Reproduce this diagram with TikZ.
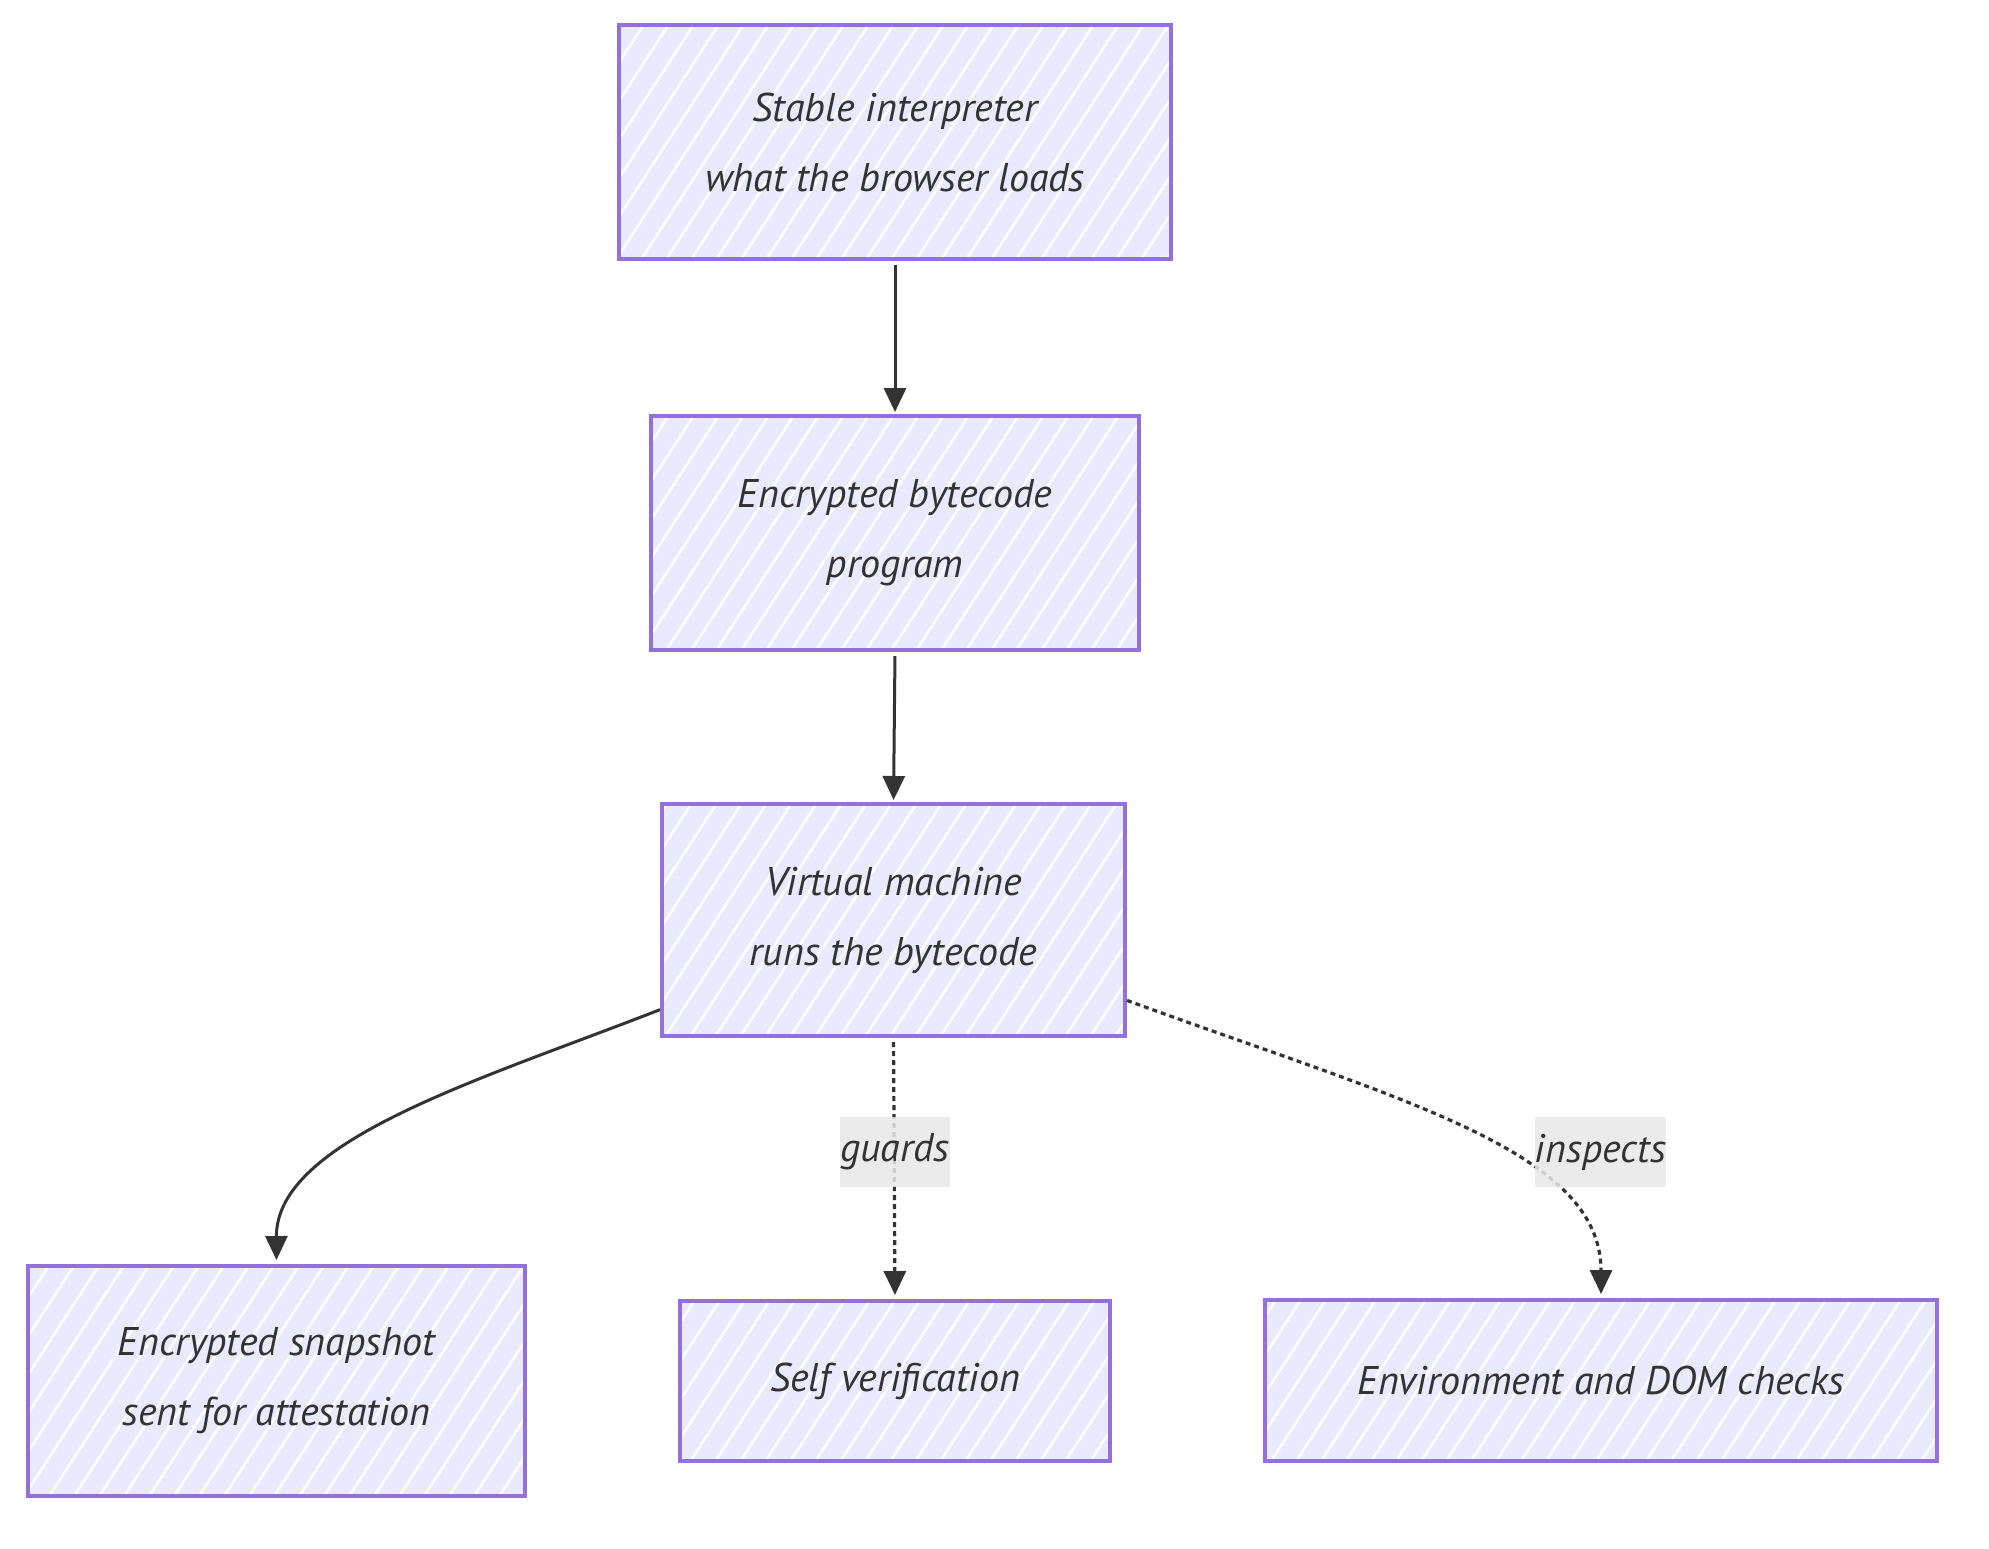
\documentclass[tikz,border=0pt]{standalone}
\usepackage{fontspec}
\setmainfont{PT Sans}
\usetikzlibrary{arrows.meta}
\definecolor{boxfill}{HTML}{EAEAFE}
\definecolor{boxline}{HTML}{9370DB}
\definecolor{ink}{HTML}{333333}
\definecolor{lblbg}{HTML}{E8E8E8}
\tikzset{
  hatchbox/.style={draw=boxline, line width=2pt, fill=boxfill, text=ink,
    inner sep=0pt, align=center, font=\itshape\fontsize{20}{35}\selectfont,
    path picture={
      \foreach \k in {-28,...,16}
        \draw[white, line width=1.2pt]
          ([xshift=\k*12.5pt, yshift=-75pt]path picture bounding box.center) -- ++(57:190pt);
    }},
  edge/.style={draw=ink, line width=1.5pt, -{Triangle[length=12pt,width=11pt]}},
  dashedge/.style={edge, line width=1.6pt, dash pattern=on 2.5pt off 2pt},
  lbl/.style={fill=lblbg, fill opacity=0.85, text opacity=1, text=ink, inner sep=0pt,
    font=\itshape\fontsize{20}{35}\selectfont, minimum height=35pt}
}
\begin{document}
\begin{tikzpicture}[x=0.5pt, y=-0.5pt]
\useasboundingbox (0,0) rectangle (1989,1548);
\node[hatchbox, minimum width=276pt, minimum height=117pt] (A) at (895,142)
  {Stable interpreter\\what the browser loads};
\node[hatchbox, minimum width=244pt, minimum height=117pt] (B) at (895,533)
  {Encrypted bytecode\\program};
\node[hatchbox, minimum width=231.5pt, minimum height=116pt] (C) at (893.5,920)
  {Virtual machine\\runs the bytecode};
\node[hatchbox, minimum width=248.5pt, minimum height=115pt] (D) at (276.5,1381)
  {Encrypted snapshot\\sent for attestation};
\node[hatchbox, minimum width=215pt, minimum height=80pt] (E) at (895,1381)
  {Self verification};
\node[hatchbox, minimum width=336pt, minimum height=80.5pt] (F) at (1601,1380.5)
  {Environment and DOM checks};

\draw[edge, shorten <=2pt, shorten >=1pt] (A.south) -- (B.north);
\draw[edge, shorten <=2pt, shorten >=1pt] (B.south) -- (C.north);
\draw[edge, shorten >=2pt] (C.201) .. controls (480,1080) and (276,1140) .. (D.north);
\draw[dashedge, shorten <=2pt, shorten >=2pt] (C.south) -- (E.north);
\draw[dashedge, shorten >=2pt] (C.-19) .. controls (1400,1100) and (1601,1150) .. (F.north);

\node[lbl, minimum width=53.5pt] (g) at (895,1152) {guards};
\node[lbl, minimum width=63.5pt] (i) at (1600.5,1152) {inspects};
\end{tikzpicture}
\end{document}
